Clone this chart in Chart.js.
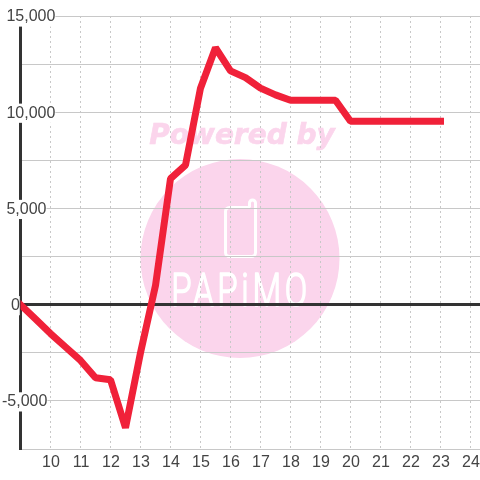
<!DOCTYPE html>
<html>
<head>
<meta charset="utf-8">
<style>
  html, body { margin: 0; padding: 0; background: #fff; }
  canvas { display: block; }
</style>
<script src="https://cdn.jsdelivr.net/npm/chart.js@4"></script>
</head>
<body>
<canvas id="chart" width="480" height="480"></canvas>
<script>
// values
const hours = [9, 9.5, 10, 10.5, 11, 11.5, 12, 12.5, 13, 13.5, 14, 14.5, 15, 15.5, 16, 16.5, 17, 17.5, 18, 18.5, 19, 19.5, 20, 20.5, 21, 21.5, 22, 22.5, 23];
const profit = [0, -750, -1500, -2200, -2900, -3800, -3900, -6400, -2500, 1000, 6550, 7250, 11250, 13350, 12150, 11800, 11250, 10900, 10620, 10620, 10620, 10620, 9530, 9530, 9530, 9530, 9530, 9530, 9530];
const xTicks = [10, 11, 12, 13, 14, 15, 16, 17, 18, 19, 20, 21, 22, 23, 24];
const yTicks = [-5000, 0, 5000, 10000, 15000];
// leading spaces keep the original label offsets
const yTickLabels = ['-5,000', '  0', ' 5,000', ' 10,000', ' 15,000'];

const watermark = {
  id: 'watermark',
  beforeDraw(chart) {
    const ctx = chart.ctx;
    ctx.save();
    ctx.letterSpacing = '0px';
    ctx.fillStyle = '#fbd5ec';
    ctx.beginPath();
    ctx.arc(240, 258.5, 99.5, 0, Math.PI * 2);
    ctx.fill();

    ctx.font = 'italic bold 28px "DejaVu Sans"';
    ctx.textAlign = 'center';
    ctx.textBaseline = 'alphabetic';
    ctx.strokeStyle = '#fbd5ec';
    ctx.lineWidth = 0.6;
    ctx.fillText('Powered by', 242, 144);
    ctx.strokeText('Powered by', 242, 144);

    // phone icon
    ctx.strokeStyle = '#fff';
    ctx.lineWidth = 3;
    ctx.lineJoin = 'round';
    ctx.beginPath();
    ctx.moveTo(250, 207.5);
    ctx.lineTo(229.5, 207.5);
    ctx.arcTo(225.5, 207.5, 225.5, 211.5, 4);
    ctx.lineTo(225.5, 252.5);
    ctx.arcTo(225.5, 256.5, 229.5, 256.5, 4);
    ctx.lineTo(251.5, 256.5);
    ctx.arcTo(255.5, 256.5, 255.5, 252.5, 4);
    ctx.lineTo(255.5, 203);
    ctx.arc(252.5, 203, 3, 0, Math.PI, true);
    ctx.lineTo(249.5, 207.5);
    ctx.stroke();

    // logo name
    ctx.translate(241, 306);
    ctx.scale(0.72, 1);
    ctx.fillStyle = '#fff';
    ctx.lineWidth = 1.6;
    ctx.font = '300 46px Roboto';
    ctx.letterSpacing = '5px';
    ctx.fillText('PAPiMO', 0, 0);
    ctx.strokeText('PAPiMO', 0, 0);
    ctx.restore();
  }
};

const ctx = document.getElementById('chart').getContext('2d');
// tick labels in the reference are set a little tighter
ctx.letterSpacing = '-0.6px';

new Chart(ctx, {
  type: 'line',
  data: {
    datasets: [{
      data: hours.map((h, i) => ({ x: h, y: profit[i] })),
      borderColor: '#f02139',
      borderWidth: 7,
      borderCapStyle: 'square',
      borderJoinStyle: 'bevel',
      pointRadius: 0,
      tension: 0,
      fill: false
    }]
  },
  plugins: [watermark],
  options: {
    responsive: false,
    animation: false,
    events: [],
    layout: { autoPadding: false, padding: { top: 16 } },
    plugins: { legend: { display: false }, tooltip: { enabled: false } },
    scales: {
      x: {
        type: 'linear',
        min: 9,
        max: 24.317,
        afterFit: scale => {
          scale.height = 31;
          // the plot runs to the canvas edge, no room reserved for the last label
          scale.paddingRight = 0;
          scale._margins.right = 0;
        },
        afterBuildTicks: scale => { scale.ticks = hours.slice(0, 1).concat(xTicks).map(v => ({ value: v })); },
        grid: { color: '#c8c8c8', lineWidth: 1, drawTicks: false, z: -1 },
        border: { dash: [2, 3], color: '#c8c8c8', width: 1, z: -1 },
        ticks: {
          autoSkip: false,
          maxRotation: 0,
          padding: 4,
          labelOffset: 0.5,
          color: '#444',
          font: { family: '"Liberation Sans"', size: 16 },
          callback: v => xTicks.includes(v) ? String(v) : ''
        }
      },
      y: {
        min: -7500,
        max: 15000,
        afterFit: scale => { scale.width = 20.5; },
        ticks: {
          stepSize: 2500,
          autoSkip: false,
          mirror: true,
          padding: -18.5,
          labelOffset: 1,
          color: '#444',
          font: { family: '"Liberation Sans"', size: 16 },
          showLabelBackdrop: c => yTicks.includes(c.tick.value),
          backdropColor: '#fff',
          backdropPadding: 0,
          callback: v => yTicks.includes(v) ? yTickLabels[yTicks.indexOf(v)] : ''
        },
        grid: {
          drawTicks: false,
          z: -1,
          color: c => c.tick.value === 0 ? '#333' : '#c8c8c8',
          lineWidth: c => c.tick.value === 0 ? 3 : 1
        },
        border: { color: '#333', width: 3, z: -1 }
      }
    }
  }
});
</script>
</body>
</html>
